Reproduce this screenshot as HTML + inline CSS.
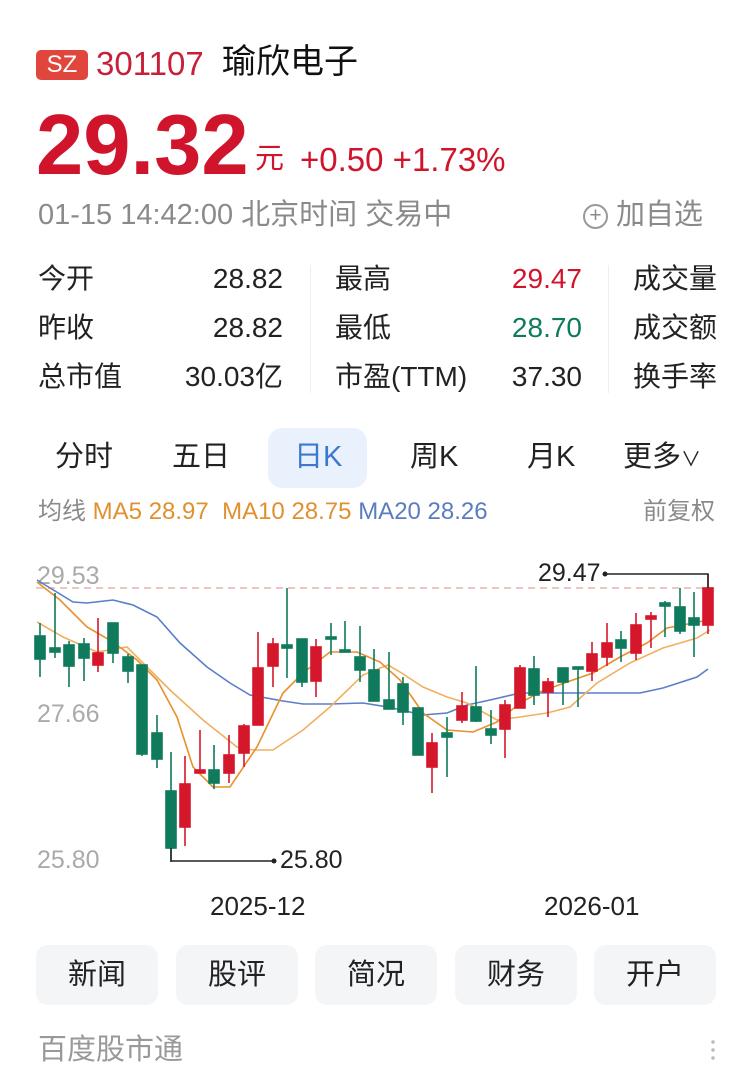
<!DOCTYPE html><html><head><meta charset="utf-8"><style>
*{margin:0;padding:0;box-sizing:border-box}
body{width:750px;height:1070px;background:#fff;position:relative;overflow:hidden;font-family:"Liberation Sans","Noto Sans CJK SC",sans-serif;color:#222}
.a{position:absolute;white-space:nowrap;line-height:1}
.g{color:#8a8a8a}.r{color:#d0142c}.gr{color:#0f7a5c}
.btn{position:absolute;top:945px;height:60px;width:122px;background:#f4f5f7;border-radius:12px;font-size:29px;text-align:center;line-height:60px;color:#222}
.s{font-size:28px}
</style></head><body>
<div class="a" style="left:36px;top:50px;width:52px;height:30px;background:#e0463c;border-radius:5px;color:#fff;font-size:24px;line-height:30px;text-align:center">SZ</div>
<div class="a" style="left:96px;top:47px;font-size:33px;color:#c8203a">301107</div>
<div class="a" style="left:222px;top:45px;font-size:34px;color:#111">瑜欣电子</div>
<div class="a r" style="left:36px;top:103px;font-size:85px;font-weight:bold">29.32</div>
<div class="a r" style="left:255px;top:145px;font-size:29px">元</div>
<div class="a r" style="left:300px;top:143px;font-size:33px">+0.50 +1.73%</div>
<div class="a g" style="left:38px;top:201px;font-size:29px">01-15 14:42:00 北京时间 交易中</div>
<div class="a g" style="left:583px;top:201px;font-size:29px"><span style="display:inline-block;width:25px;height:25px;border:2px solid #999;border-radius:50%;font-size:21px;line-height:20px;text-align:center;vertical-align:2px">+</span> 加自选</div>
<div class="a s" style="left:38px;top:265px">今开</div>
<div class="a s" style="left:38px;top:314px">昨收</div>
<div class="a s" style="left:38px;top:363px">总市值</div>
<div class="a s" style="right:467px;top:265px">28.82</div>
<div class="a s" style="right:467px;top:314px">28.82</div>
<div class="a s" style="right:467px;top:363px">30.03亿</div>
<div class="a" style="left:310px;top:265px;width:1px;height:128px;background:#eee"></div>
<div class="a s" style="left:335px;top:265px">最高</div>
<div class="a s" style="left:335px;top:314px">最低</div>
<div class="a s" style="left:335px;top:363px">市盈(TTM)</div>
<div class="a r s" style="right:168px;top:265px">29.47</div>
<div class="a gr s" style="right:168px;top:314px">28.70</div>
<div class="a s" style="right:168px;top:363px">37.30</div>
<div class="a" style="left:608px;top:265px;width:1px;height:128px;background:#eee"></div>
<div class="a s" style="left:633px;top:265px">成交量</div>
<div class="a s" style="left:633px;top:314px">成交额</div>
<div class="a s" style="left:633px;top:363px">换手率</div>
<div class="a" style="left:268px;top:428px;width:99px;height:60px;background:#e8f1fc;border-radius:14px"></div>
<div class="a" style="left:55px;top:443px;font-size:29px">分时</div>
<div class="a" style="left:172px;top:443px;font-size:29px">五日</div>
<div class="a" style="left:294px;top:443px;font-size:29px;color:#3b78d0">日K</div>
<div class="a" style="left:410px;top:443px;font-size:29px">周K</div>
<div class="a" style="left:527px;top:443px;font-size:29px">月K</div>
<div class="a" style="left:623px;top:443px;font-size:29px">更多<span style="font-size:20px">∨</span></div>
<div class="a" style="left:38px;top:500px;font-size:24px"><span class="g">均线</span> <span style="color:#e0902f">MA5 28.97 &nbsp;MA10 28.75</span> <span style="color:#5a7cc0">MA20 28.26</span></div>
<div class="a g" style="right:35px;top:500px;font-size:24px">前复权</div>
<div class="a" style="left:37px;top:564px;font-size:25px;color:#aaa">29.53</div>
<div class="a" style="left:37px;top:702px;font-size:25px;color:#aaa">27.66</div>
<div class="a" style="left:37px;top:848px;font-size:25px;color:#aaa">25.80</div>
<svg class="a" style="left:0;top:0" width="750" height="1070">
<line x1="36" y1="588" x2="714" y2="588" stroke="#e8b0b0" stroke-width="1.5" stroke-dasharray="7,5"/>
<g fill="none" stroke-width="1.6">
<polyline stroke="#5a7ec8" points="37,580 73,602 87,603 113,600 133,605 157,617 180,643 207,667 230,683 250,695 283,701 303,704 330,704 363,703 388,707 423,715 447,713 467,705 490,700 520,693 567,693 640,693 663,688 697,677 708,669"/>
<polyline stroke="#f0b060" points="37,622 63,637 97,652 127,647 147,667 170,690 203,720 237,747 253,750 273,750 303,730 330,707 363,675 388,665 400,672 423,687 447,697 467,703 497,720 520,717 547,713 570,707 597,683 630,663 663,648 697,638 710,630"/>
<polyline stroke="#e8902a" points="37,582 60,600 87,627 113,642 137,660 157,680 177,717 193,767 213,787 230,787 257,747 283,693 303,673 330,652 357,652 380,662 400,680 423,713 447,730 473,732 497,722 520,703 540,692 567,682 593,673 620,657 647,643 667,628 693,623 708,620"/>
</g>
<g stroke-width="1.6">
<g stroke="#0f7a5c" fill="#0f7a5c">
<line x1="40" y1="623" x2="40" y2="677"/><rect x="35" y="636" width="10" height="23"/>
<line x1="55" y1="593" x2="55" y2="658"/><rect x="50" y="648" width="10" height="4"/>
<line x1="69" y1="641" x2="69" y2="687"/><rect x="64" y="645" width="10" height="21"/>
<line x1="84" y1="638" x2="84" y2="681"/><rect x="79" y="644" width="10" height="14"/>
<line x1="113" y1="623" x2="113" y2="663"/><rect x="108" y="623" width="10" height="30"/>
<line x1="128" y1="654" x2="128" y2="683"/><rect x="123" y="657" width="10" height="14"/>
<line x1="142" y1="665" x2="142" y2="756"/><rect x="137" y="665" width="10" height="89"/>
<line x1="157" y1="715" x2="157" y2="768"/><rect x="152" y="733" width="10" height="26"/>
<line x1="171" y1="752" x2="171" y2="862"/><rect x="166" y="791" width="10" height="57"/>
<line x1="214" y1="745" x2="214" y2="789"/><rect x="209" y="770" width="10" height="13"/>
<line x1="287" y1="588" x2="287" y2="678"/><rect x="282" y="645" width="10" height="3"/>
<line x1="302" y1="639" x2="302" y2="687"/><rect x="297" y="639" width="10" height="43"/>
<line x1="331" y1="623" x2="331" y2="655"/><rect x="326" y="637" width="10" height="2"/>
<line x1="345" y1="621" x2="345" y2="652"/><rect x="340" y="650" width="10" height="2"/>
<line x1="360" y1="626" x2="360" y2="682"/><rect x="355" y="657" width="10" height="13"/>
<line x1="374" y1="649" x2="374" y2="701"/><rect x="369" y="670" width="10" height="31"/>
<line x1="389" y1="652" x2="389" y2="709"/><rect x="384" y="700" width="10" height="9"/>
<line x1="403" y1="677" x2="403" y2="725"/><rect x="398" y="684" width="10" height="28"/>
<line x1="418" y1="708" x2="418" y2="755"/><rect x="413" y="708" width="10" height="47"/>
<line x1="447" y1="717" x2="447" y2="777"/><rect x="442" y="733" width="10" height="4"/>
<line x1="476" y1="666" x2="476" y2="722"/><rect x="471" y="707" width="10" height="14"/>
<line x1="491" y1="710" x2="491" y2="744"/><rect x="486" y="729" width="10" height="6"/>
<line x1="534" y1="656" x2="534" y2="705"/><rect x="529" y="669" width="10" height="26"/>
<line x1="563" y1="668" x2="563" y2="705"/><rect x="558" y="668" width="10" height="14"/>
<line x1="578" y1="667" x2="578" y2="707"/><rect x="573" y="667" width="10" height="2"/>
<line x1="621" y1="631" x2="621" y2="662"/><rect x="616" y="640" width="10" height="8"/>
<line x1="665" y1="601" x2="665" y2="637"/><rect x="660" y="603" width="10" height="3"/>
<line x1="680" y1="588" x2="680" y2="634"/><rect x="675" y="607" width="10" height="24"/>
<line x1="694" y1="592" x2="694" y2="657"/><rect x="689" y="618" width="10" height="7"/>
</g>
<g stroke="#d5172b" fill="#d5172b">
<line x1="98" y1="618" x2="98" y2="672"/><rect x="93" y="653" width="10" height="12"/>
<line x1="185" y1="756" x2="185" y2="846"/><rect x="180" y="784" width="10" height="43"/>
<line x1="200" y1="730" x2="200" y2="773"/><rect x="195" y="770" width="10" height="3"/>
<line x1="229" y1="735" x2="229" y2="783"/><rect x="224" y="755" width="10" height="18"/>
<line x1="244" y1="724" x2="244" y2="767"/><rect x="239" y="726" width="10" height="27"/>
<line x1="258" y1="632" x2="258" y2="725"/><rect x="253" y="668" width="10" height="57"/>
<line x1="273" y1="638" x2="273" y2="687"/><rect x="268" y="644" width="10" height="22"/>
<line x1="316" y1="639" x2="316" y2="697"/><rect x="311" y="647" width="10" height="34"/>
<line x1="432" y1="733" x2="432" y2="793"/><rect x="427" y="743" width="10" height="24"/>
<line x1="462" y1="692" x2="462" y2="723"/><rect x="457" y="706" width="10" height="14"/>
<line x1="505" y1="700" x2="505" y2="758"/><rect x="500" y="705" width="10" height="24"/>
<line x1="520" y1="665" x2="520" y2="708"/><rect x="515" y="668" width="10" height="40"/>
<line x1="548" y1="678" x2="548" y2="717"/><rect x="543" y="682" width="10" height="10"/>
<line x1="592" y1="642" x2="592" y2="681"/><rect x="587" y="654" width="10" height="17"/>
<line x1="607" y1="623" x2="607" y2="666"/><rect x="602" y="643" width="10" height="14"/>
<line x1="636" y1="613" x2="636" y2="660"/><rect x="631" y="625" width="10" height="28"/>
<line x1="651" y1="612" x2="651" y2="648"/><rect x="646" y="616" width="10" height="3"/>
<line x1="708" y1="574" x2="708" y2="634"/><rect x="703" y="588" width="10" height="37"/>
</g></g>
<polyline fill="none" stroke="#222" stroke-width="1.5" points="171,848 171,861 273,861"/><circle cx="274" cy="861" r="2.5" fill="#222"/>
<polyline fill="none" stroke="#222" stroke-width="1.5" points="605,574 708,574 708,588"/><circle cx="605" cy="574" r="2.5" fill="#222"/>
</svg>
<div class="a" style="left:280px;top:848px;font-size:25px">25.80</div>
<div class="a" style="left:538px;top:561px;font-size:25px">29.47</div>
<div class="a" style="left:210px;top:893px;font-size:26px">2025-12</div>
<div class="a" style="left:544px;top:893px;font-size:26px">2026-01</div>
<div class="btn" style="left:36px">新闻</div>
<div class="btn" style="left:176px">股评</div>
<div class="btn" style="left:315px">简况</div>
<div class="btn" style="left:455px">财务</div>
<div class="btn" style="left:594px">开户</div>
<div class="a" style="left:38px;top:1036px;font-size:29px;color:#999">百度股市通</div>
<div class="a" style="left:711px;top:1038px;width:4px;height:24px;background:radial-gradient(circle,#bbb 1.6px,transparent 2px) 0 0/4px 8px"></div>
</body></html>
